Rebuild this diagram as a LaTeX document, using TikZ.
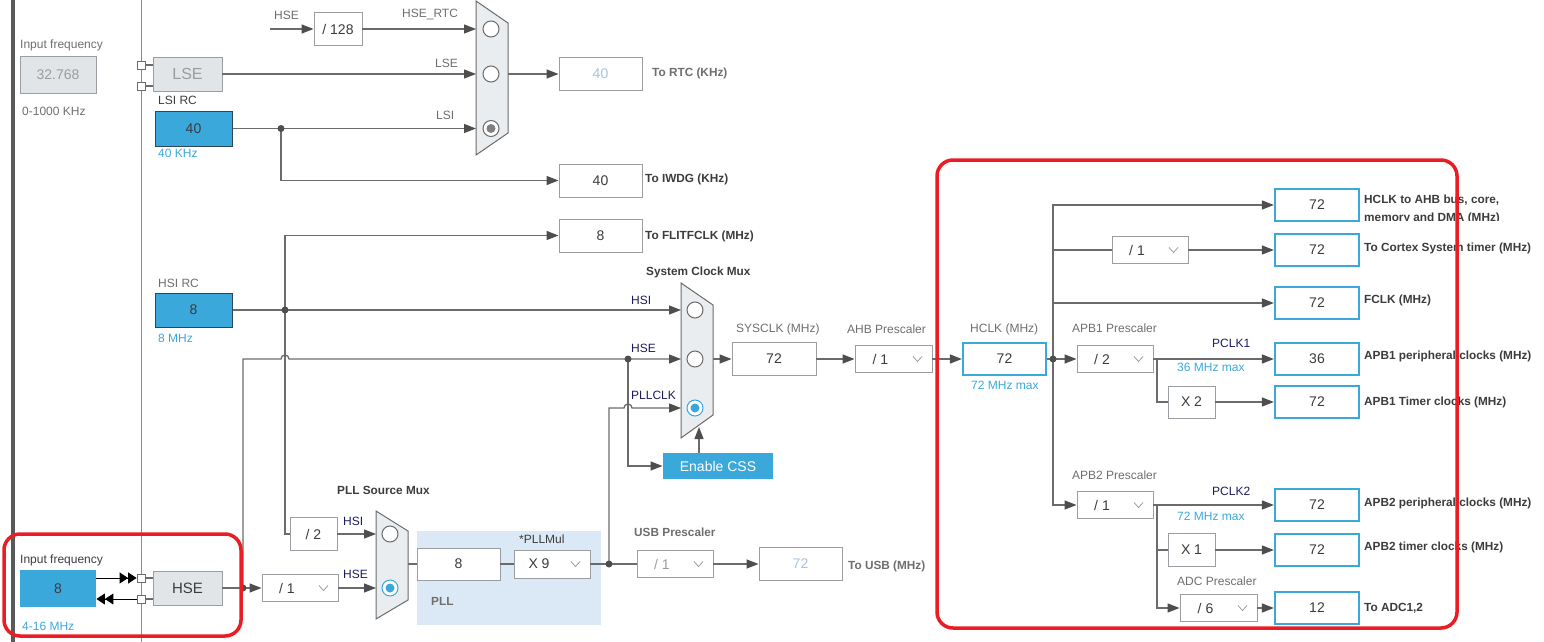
\documentclass[tikz,border=0pt]{standalone}
\usepackage{fontspec}
\setmainfont{Liberation Sans}
\usetikzlibrary{arrows.meta}

\definecolor{wiregray}{HTML}{6B6B6B}
\definecolor{tipgray}{HTML}{4E4E4E}
\definecolor{cubeblue}{HTML}{3AA8DB}
\definecolor{srcedge}{HTML}{2E4756}
\definecolor{boxgray}{HTML}{9A9EA3}
\definecolor{offfill}{HTML}{E2E5E8}
\definecolor{muxfill}{HTML}{E9EDF0}
\definecolor{labgray}{HTML}{6E6E6E}
\definecolor{valtext}{HTML}{3C3C3C}
\definecolor{navy}{HTML}{1B1B5E}
\definecolor{offnum}{HTML}{A9C3DC}
\definecolor{offgray}{HTML}{9C9C9C}
\definecolor{markred}{HTML}{EA1D25}
\definecolor{pllfill}{HTML}{DBE8F5}

\newcommand{\dropval}[1]{\makebox[50pt][c]{#1}\hspace*{26pt}}

\begin{document}
\begin{tikzpicture}[x=1pt, y=-1pt]

    % Set the canvas size
    \useasboundingbox (0,0) rectangle (1544,642);

    % Define styles
    \tikzset{
        wire/.style={draw=wiregray, line width=1.3pt},
        flow/.style={wire, -{Triangle[length=12pt, width=9pt, color=tipgray]}},
        dblflow/.style={draw=black, line width=1pt, -{Triangle[length=8.5pt, width=11pt] Triangle[length=8.5pt, width=11pt]}},
        box/.style={draw=boxgray, fill=white, line width=0.9pt, inner sep=0pt,
            minimum width=83pt, minimum height=33pt, text=valtext, font=\fontsize{14}{16}\selectfont},
        offbox/.style={box, fill=offfill, text=offgray},
        srcbox/.style={box, fill=cubeblue, draw=srcedge, line width=1pt},
        outbox/.style={box, draw=cubeblue, line width=2.2pt, minimum width=84pt, minimum height=32pt},
        dropbox/.style={box, minimum width=76pt, minimum height=27pt,
            path picture={\draw[offgray, line width=0.8pt] ([xshift=-19pt, yshift=2.5pt]path picture bounding box.east) -- ++(4.5pt,-5pt) -- ++(4.5pt,5pt);}},
        lab/.style={anchor=west, inner sep=0pt, text=labgray, font=\fontsize{12}{14}\selectfont},
        darklab/.style={lab, text=valtext},
        bluelab/.style={lab, text=cubeblue},
        navylab/.style={lab, text=navy},
        boldlab/.style={lab, text=valtext, font=\bfseries\fontsize{11.8}{13}\selectfont},
        offlab/.style={boldlab, text=labgray},
        muxbody/.style={draw=wiregray, fill=muxfill, line width=1pt},
        sel/.style={circle, draw=wiregray, fill=white, line width=1pt, minimum size=16pt, inner sep=0pt},
        selon/.style={sel, draw=cubeblue, path picture={\fill[cubeblue] (path picture bounding box.center) circle (4.5pt);}},
        selgray/.style={sel, path picture={\fill[gray] (path picture bounding box.center) circle (4.5pt);}},
        jdot/.style={circle, fill=tipgray, minimum size=7pt, inner sep=0pt},
        pad/.style={draw=wiregray, fill=white, line width=0.8pt, minimum size=8pt, inner sep=0pt},
        redframe/.style={draw=markred, line width=3.5pt, rounded corners=16pt},
    }

    % Side rails
    \draw[line width=4pt, draw=black!65] (13,0) -- (13,642);
    \draw[line width=1pt, draw=black!45] (141,0) -- (141,642);

    % Low speed sources
    \node[lab] (lsefreqlab) at (20,45) {Input frequency};
    \node[offbox, minimum width=76pt, minimum height=37pt] (lsefreq) at (58,74.5) {32.768};
    \node[lab] (lserange) at (22,111) {0-1000 KHz};
    \node[offbox, minimum width=69pt, minimum height=34pt, font=\fontsize{16}{18}\selectfont] (lse) at (187.5,74) {LSE};
    \node[pad] (lsepad1) at (141,65) {};
    \node[pad] (lsepad2) at (141,86) {};
    \node[darklab] (lsilab) at (158,100) {LSI RC};
    \node[srcbox, minimum width=77pt, minimum height=35pt] (lsi) at (193.5,128.5) {40};
    \node[bluelab] (lsifreq) at (158,153) {40 KHz};

    % RTC mux
    \draw[muxbody] (476,1) -- (508,23) -- (508,133) -- (476,155) -- cycle;
    \coordinate (rtcL) at (476,0);
    \coordinate (rtcR) at (508,74);
    \node[sel] (rtcsel1) at (491,29) {};
    \node[sel] (rtcsel2) at (491,74) {};
    \node[selgray] (rtcsel3) at (491,128.5) {};
    \coordinate (hsertc) at (270,29);
    \node[box, minimum width=48pt] (div128) at (338,29) {/ 128};
    \node[lab] (hsertclab) at (274,15) {HSE};
    \node[lab] (rtcinlab1) at (402,15) {HSE\_RTC};
    \node[lab] (rtcinlab2) at (435,63) {LSE};
    \node[lab] (rtcinlab3) at (436,115) {LSI};
    \node[box, text=offnum] (rtc) at (600.5,74) {40};
    \node[offlab] (rtclab) at (652,73) {To RTC (KHz)};
    \node[box] (iwdg) at (600.5,180.5) {40};
    \node[boldlab] (iwdglab) at (645,179) {To IWDG (KHz)};
    \coordinate (lsij) at (281,128.5);

    \draw[wire] (lsepad1.east) -- (lse.west |- lsepad1);
    \draw[wire] (lsepad2.east) -- (lse.west |- lsepad2);
    \draw[flow] (hsertc) -- (div128.west);
    \draw[flow] (div128.east) -- (div128.east -| rtcL);
    \draw[flow] (lse.east) -- (lse.east -| rtcL);
    \draw[flow] (lsi.east) -- (lsi.east -| rtcL);
    \draw[flow] (lsij) |- (iwdg.west);
    \draw[flow] (rtcR) -- (rtc.west);

    % High speed internal
    \node[lab] (hsilab) at (158,283) {HSI RC};
    \node[srcbox, minimum width=77pt, minimum height=34pt] (hsi) at (193.5,310) {8};
    \node[bluelab] (hsifreq) at (158,338) {8 MHz};
    \node[box] (flit) at (600.5,235.5) {8};
    \node[boldlab] (flitlab) at (645,236) {To FLITFCLK (MHz)};
    \coordinate (hsij) at (285,310);

    % System clock mux
    \draw[muxbody] (681,283) -- (713,305) -- (713,415) -- (681,438) -- cycle;
    \node[boldlab] (syslab) at (646,272) {System Clock Mux};
    \node[sel] (syssel1) at (695,310) {};
    \node[sel] (syssel2) at (695,359) {};
    \node[selon] (syssel3) at (695,408) {};
    \coordinate (sysin1) at (681,310);
    \coordinate (sysin2) at (681,359);
    \coordinate (sysin3) at (681,408);
    \coordinate (sysR) at (713,359);
    \coordinate (sysbot) at (699,427);
    \node[navylab] (sysinlab1) at (631,300) {HSI};
    \node[navylab] (sysinlab2) at (631,348) {HSE};
    \node[navylab] (sysinlab3) at (631,395) {PLLCLK};
    \node[box, fill=cubeblue, draw=none, minimum width=110pt, minimum height=26pt, text=white] (css) at (718,466) {Enable CSS};

    % HSE input
    \node[darklab] (hsefreqlab) at (20,560) {Input frequency};
    \node[box, fill=cubeblue, draw=none, minimum width=76pt, minimum height=37pt] (hsefreq) at (58,588.5) {8};
    \node[bluelab] (hserange) at (22,626) {4-16 MHz};
    \node[pad] (hsepad1) at (141,578) {};
    \node[pad] (hsepad2) at (141,599) {};
    \node[offbox, minimum width=69pt, minimum height=34pt, text=valtext, font=\fontsize{15}{17}\selectfont] (hse) at (187.5,588) {HSE};
    \node[dropbox] (hsediv) at (300,588) {\dropval{/ 1}};
    \coordinate (hsej) at (243,588);
    \coordinate (hopa) at (285,359);
    \coordinate (hsej2) at (628,359);

    \draw[dblflow] (hsefreq.east |- hsepad1) -- (hsepad1.west);
    \draw[dblflow] (hsepad2.west) -- (hsefreq.east |- hsepad2);
    \draw[wire] (hsepad1.east) -- (hse.west |- hsepad1);
    \draw[wire] (hsepad2.east) -- (hse.west |- hsepad2);

    % PLL source mux and PLL
    \fill[pllfill] (417,531) rectangle (601,625);
    \draw[muxbody] (376,511) -- (408,531) -- (408,600) -- (376,619) -- cycle;
    \node[boldlab] (pllmuxlab) at (337,490) {PLL Source Mux};
    \node[sel] (pllsel1) at (390,534) {};
    \node[selon] (pllsel2) at (390,588) {};
    \coordinate (pllL) at (376,0);
    \coordinate (pllR) at (408,564);
    \node[box, minimum width=47pt] (div2) at (313.5,534) {/ 2};
    \node[navylab] (pllinlab1) at (343,521) {HSI};
    \node[navylab] (pllinlab2) at (343,574) {HSE};
    \node[box, minimum height=32pt] (pllin) at (458.5,564) {8};
    \node[darklab] (pllmullab) at (519,539) {*PLLMul};
    \node[dropbox, minimum height=28pt] (pllmul) at (552,564) {\dropval{X 9}};
    \node[boldlab, text=labgray] (plllab) at (431,601) {PLL};
    \coordinate (pllj) at (609,564);
    \coordinate (hopb) at (628,408);

    % USB
    \node[offlab] (usbdivlab) at (634,532) {USB Prescaler};
    \node[dropbox, text=offgray] (usbdiv) at (675,564) {\dropval{/ 1}};
    \node[box, text=offnum] (usb) at (800.5,564) {72};
    \node[offlab] (usblab) at (848,566) {To USB (MHz)};

    % Wires of the middle part
    \draw[flow] (hsij) |- (flit.west);
    \draw[flow] (hsi.east) -- (sysin1);
    \draw[wire] (hsij) |- (div2.west);
    \draw[flow] (div2.east) -- (div2.east -| pllL);
    \draw[wire] (hse.east) -- (hsej);
    \draw[flow] (hsej) -- (hsediv.west);
    \draw[flow] (hsediv.east) -- (hsediv.east -| pllL);
    \draw[flow] (hsej) -- (hsej |- hopa) -- ([xshift=-4pt]hopa) arc[start angle=180, end angle=0, radius=4pt] -- (sysin2);
    \draw[wire] (pllR) -- (pllin.west);
    \draw[wire] (pllin.east) -- (pllmul.west);
    \draw[wire] (pllmul.east) -- (usbdiv.west);
    \draw[flow] (pllj) |- ([xshift=-4pt]hopb) arc[start angle=180, end angle=0, radius=4pt] -- (sysin3);
    \draw[flow] (hsej2) |- (css.west);
    \draw[flow] (css.north -| sysbot) -- (sysbot);
    \draw[flow] (usbdiv.east) -- (usb.west);

    % SYSCLK to HCLK
    \node[box, minimum width=84pt] (sysclk) at (774,359) {72};
    \node[lab] (sysclklab) at (736,329) {SYSCLK (MHz)};
    \node[dropbox, minimum width=77pt] (ahb) at (893.5,359) {\dropval{/ 1}};
    \node[lab] (ahblab) at (847,329) {AHB Prescaler};
    \node[outbox, minimum width=83pt] (hclk) at (1004.5,359) {72};
    \node[lab] (hclklab) at (970,329) {HCLK (MHz)};
    \node[bluelab] (hclkmax) at (971,385) {72 MHz max};
    \coordinate (hclkj) at (1053,359);

    \draw[flow] (sysR) -- (sysclk.west);
    \draw[flow] (sysclk.east) -- (ahb.west);
    \draw[flow] (ahb.east) -- (hclk.west);
    \draw[wire] (hclk.east) -- (hclkj);

    % Bus clocks
    \node[outbox] (ahbout) at (1317,205) {72};
    \node[dropbox] (cortexdiv) at (1150,250) {\dropval{/ 1}};
    \node[outbox] (cortex) at (1317,250) {72};
    \node[outbox] (fclk) at (1317,303) {72};
    \node[dropbox] (apb1div) at (1115,359) {\dropval{/ 2}};
    \node[lab] (apb1lab) at (1072,328) {APB1 Prescaler};
    \node[navylab] (pclk1lab) at (1212,343) {PCLK1};
    \node[bluelab] (pclk1max) at (1177,367) {36 MHz max};
    \node[outbox] (apb1p) at (1317,359) {36};
    \node[box, minimum width=47pt, minimum height=32pt] (x2) at (1191.5,402) {X 2};
    \node[outbox] (apb1t) at (1317,402) {72};
    \node[dropbox] (apb2div) at (1115,505) {\dropval{/ 1}};
    \node[lab] (apb2lab) at (1072,475) {APB2 Prescaler};
    \node[navylab] (pclk2lab) at (1212,491) {PCLK2};
    \node[bluelab] (pclk2max) at (1177,516) {72 MHz max};
    \node[outbox] (apb2p) at (1317,505) {72};
    \node[box, minimum width=47pt, minimum height=33pt] (x1) at (1191.5,550) {X 1};
    \node[outbox] (apb2t) at (1317,550) {72};
    \node[lab] (adclab) at (1177,581) {ADC Prescaler};
    \node[dropbox, minimum width=77pt] (adcdiv) at (1218.5,608) {\dropval{/ 6}};
    \node[outbox] (adc) at (1317,608) {12};
    \coordinate (apb1j) at (1157,359);
    \coordinate (apb2j) at (1157,505);

    \begin{scope}
        \clip (1360,185) rectangle (1544,220);
        \node[boldlab] (ahboutlab1) at (1364,200) {HCLK to AHB bus, core,};
        \node[boldlab] (ahboutlab2) at (1364,218.5) {memory and DMA (MHz)};
    \end{scope}
    \node[boldlab] (cortexlab) at (1364,248) {To Cortex System timer (MHz)};
    \node[boldlab] (fclklab) at (1364,300) {FCLK (MHz)};
    \node[boldlab] (apb1plab) at (1364,356) {APB1 peripheral clocks (MHz)};
    \node[boldlab] (apb1tlab) at (1364,402) {APB1 Timer clocks (MHz)};
    \node[boldlab] (apb2plab) at (1364,503) {APB2 peripheral clocks (MHz)};
    \node[boldlab] (apb2tlab) at (1364,547) {APB2 timer clocks (MHz)};
    \node[boldlab] (adcoutlab) at (1364,608) {To ADC1,2};

    \draw[flow] (hclkj) |- (ahbout.west);
    \draw[wire] (hclkj) |- (cortexdiv.west);
    \draw[flow] (cortexdiv.east) -- (cortex.west);
    \draw[flow] (hclkj) |- (fclk.west);
    \draw[flow] (hclkj) -- (apb1div.west);
    \draw[flow] (hclkj) |- (apb2div.west);
    \draw[flow] (apb1div.east) -- (apb1p.west);
    \draw[wire] (apb1j) |- (x2.west);
    \draw[flow] (x2.east) -- (apb1t.west);
    \draw[flow] (apb2div.east) -- (apb2p.west);
    \draw[wire] (apb2j) |- (x1.west);
    \draw[flow] (x1.east) -- (apb2t.west);
    \draw[flow] (apb2j) |- (adcdiv.west);
    \draw[flow] (adcdiv.east) -- (adc.west);

    % Junction dots
    \node[jdot] (lsidot) at (lsij) {};
    \node[jdot] (hsidot) at (hsij) {};
    \node[jdot] (hsedot) at (hsej) {};
    \node[jdot] (hsedot2) at (hsej2) {};
    \node[jdot] (plldot) at (pllj) {};
    \node[jdot] (hclkdot) at (hclkj) {};

    % Red marks
    \draw[redframe] (937,160) rectangle (1457,628);
    \draw[redframe] (4,534) rectangle (241,636);

\end{tikzpicture}
\end{document}
